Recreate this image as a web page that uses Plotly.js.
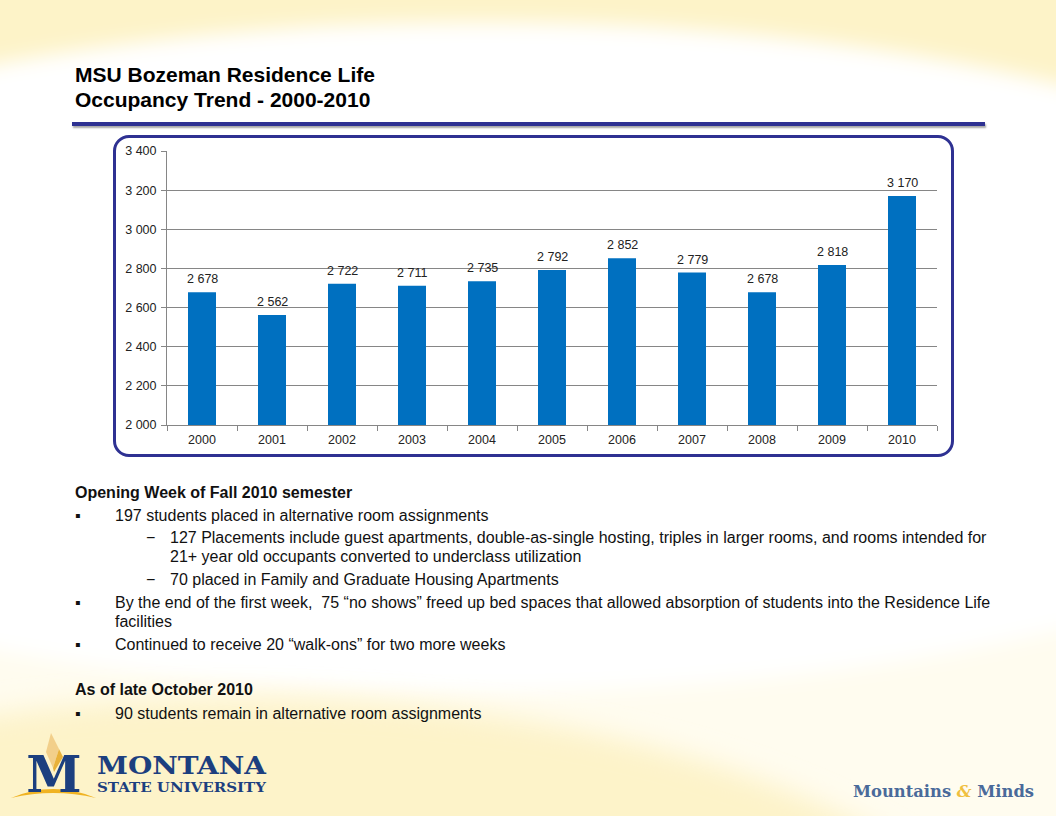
<!DOCTYPE html>
<html>
<head>
<meta charset="utf-8">
<script src="https://cdn.plot.ly/plotly-3.0.1.min.js"></script>
<style>
  html, body { margin:0; padding:0; }
  body { width:1056px; height:816px; position:relative; overflow:hidden; font-family:"Liberation Sans", Arial, sans-serif; background:#fffdf2; }
  #bg { position:absolute; left:0; top:0; }
  .abs { position:absolute; white-space:nowrap; }
  #title { left:75px; top:62px; font-weight:bold; font-size:21px; line-height:25px; color:#000; }
  #rule { left:72px; top:122px; width:913px; height:4px; background:#2E3192; box-shadow:1px 2px 2px rgba(0,0,0,0.35); }
  #box { left:113px; top:135px; width:835px; height:316px; border:3px solid #2E3192; border-radius:16px; background:#fff; }
  #chart { left:116px; top:138px; width:835px; height:316px; }
  .txt { font-size:16px; color:#111; line-height:19px; }
  .b { font-weight:bold; }
</style>
</head>
<body>
<svg id="bg" width="1056" height="816">
  <defs>
    <filter id="blur1" x="-20%" y="-20%" width="140%" height="140%"><feGaussianBlur stdDeviation="10"/></filter>
    <filter id="blur2" x="-20%" y="-20%" width="140%" height="140%"><feGaussianBlur stdDeviation="14"/></filter>
  </defs>
  <rect x="0" y="0" width="1056" height="816" fill="#fffcef"/>
  <rect x="0" y="0" width="1056" height="260" fill="#fdf3c8"/>
  <ellipse cx="480" cy="357" rx="1000" ry="335" fill="#ffffff" filter="url(#blur1)"/>
  <ellipse cx="240" cy="1060" rx="820" ry="362" fill="#fdf3c9" filter="url(#blur2)"/>
</svg>

<div id="title" class="abs">MSU Bozeman Residence Life<br>Occupancy Trend - 2000-2010</div>
<div id="rule" class="abs"></div>
<div id="box" class="abs"></div>
<div id="chart" class="abs"></div>

<div class="abs txt b" style="left:75px; top:483px;">Opening Week of Fall 2010 semester</div>
<div class="abs txt" style="left:75px; top:506px;">&#9642;</div>
<div class="abs txt" style="left:115px; top:506px;">197 students placed in alternative room assignments</div>
<div class="abs txt" style="left:146px; top:528px;">&minus;</div>
<div class="abs txt" style="left:170px; top:528px;">127 Placements include guest apartments, double-as-single hosting, triples in larger rooms, and rooms intended for<br>21+ year old occupants converted to underclass utilization</div>
<div class="abs txt" style="left:146px; top:570px;">&minus;</div>
<div class="abs txt" style="left:170px; top:570px;">70 placed in Family and Graduate Housing Apartments</div>
<div class="abs txt" style="left:75px; top:593px;">&#9642;</div>
<div class="abs txt" style="left:115px; top:593px;">By the end of the first week,&nbsp; 75 &ldquo;no shows&rdquo; freed up bed spaces that allowed absorption of students into the Residence Life<br>facilities</div>
<div class="abs txt" style="left:75px; top:635px;">&#9642;</div>
<div class="abs txt" style="left:115px; top:635px;">Continued to receive 20 &ldquo;walk-ons&rdquo; for two more weeks</div>
<div class="abs txt b" style="left:75px; top:680px;">As of late October 2010</div>
<div class="abs txt" style="left:75px; top:704px;">&#9642;</div>
<div class="abs txt" style="left:115px; top:704px;">90 students remain in alternative room assignments</div>

<!-- Montana State University logo -->
<svg class="abs" style="left:8px; top:728px;" width="280" height="80">
  <path d="M43 5 L51 21 L45 40 L38 24 Z" fill="#f2cf8a"/>
  <path d="M51 21 L55 29 L46 44 L45 40 Z" fill="#e8b13a"/>
  <path d="M3 70 Q45 52 88 70 Q45 60 3 70 Z" fill="#f0b323"/>
  <text x="46" y="64" text-anchor="middle" font-family="DejaVu Serif, Liberation Serif, serif" font-weight="bold" font-size="50" fill="#1c3f7f">M</text>
  <text x="89" y="46" font-family="DejaVu Serif, Liberation Serif, serif" font-weight="bold" font-size="24" fill="#1c3f7f" textLength="169" lengthAdjust="spacingAndGlyphs">MONTANA</text>
  <text x="89" y="63.5" font-family="DejaVu Serif, Liberation Serif, serif" font-weight="bold" font-size="12.5" fill="#1c3f7f" textLength="169" lengthAdjust="spacingAndGlyphs">STATE UNIVERSITY</text>
</svg>
<svg class="abs" style="left:850px; top:776px;" width="200" height="30">
  <text x="3" y="21" font-family="DejaVu Serif, Liberation Serif, serif" font-weight="bold" font-size="16" fill="#4a6a9a" textLength="181" lengthAdjust="spacingAndGlyphs">Mountains <tspan fill="#f0c040" font-style="italic">&amp;</tspan> Minds</text>
</svg>

<script>
const years = ['2000','2001','2002','2003','2004','2005','2006','2007','2008','2009','2010'];
const occupancy = [2678, 2562, 2722, 2711, 2735, 2792, 2852, 2779, 2678, 2818, 3170];
const yTicks = [2000, 2200, 2400, 2600, 2800, 3000, 3200, 3400];

function fmt(v) {
  return String(v).replace(/\B(?=(\d{3})+(?!\d))/g, ' ');
}

const trace = {
  type: 'bar',
  x: years,
  y: occupancy,
  marker: { color: '#0070C0' },
  hoverinfo: 'none'
};

// data labels: x given as category index on the category axis
const labels = years.map((yr, i) => ({
  x: i,
  y: occupancy[i],
  text: fmt(occupancy[i]),
  showarrow: false,
  yanchor: 'bottom',
  yshift: 4,
  font: { family: 'Liberation Sans, Arial, sans-serif', size: 12.5, color: '#222' }
}));

const layout = {
  width: 835, height: 316,
  margin: { l: 51, r: 14, t: 13, b: 29 },
  paper_bgcolor: 'rgba(0,0,0,0)',
  plot_bgcolor: 'rgba(0,0,0,0)',
  separators: ', ',
  bargap: 0.6,
  showlegend: false,
  annotations: labels,
  font: { family: 'Liberation Sans, Arial, sans-serif', size: 12.5, color: '#222' },
  xaxis: {
    type: 'category',
    categoryorder: 'array',
    categoryarray: years,
    range: [-0.5, years.length - 0.5],
    tickson: 'boundaries',
    ticks: 'outside', ticklen: 5, tickcolor: '#868686',
    ticklabelstandoff: 3,
    showline: true, linecolor: '#868686', linewidth: 1,
    showgrid: false,
    tickfont: { size: 12.5, color: '#222' }
  },
  yaxis: {
    range: [2000, 3400],
    tickvals: yTicks,
    tickformat: ',d',
    separatethousands: true,
    ticks: 'outside', ticklen: 5, tickcolor: '#868686',
    ticklabelstandoff: 2,
    showline: true, linecolor: '#868686', linewidth: 1,
    showgrid: true, gridcolor: '#868686', gridwidth: 1,
    zeroline: false,
    tickfont: { size: 12.5, color: '#222' }
  }
};

Plotly.newPlot('chart', [trace], layout, { staticPlot: true, displayModeBar: false });
</script>
</body>
</html>
